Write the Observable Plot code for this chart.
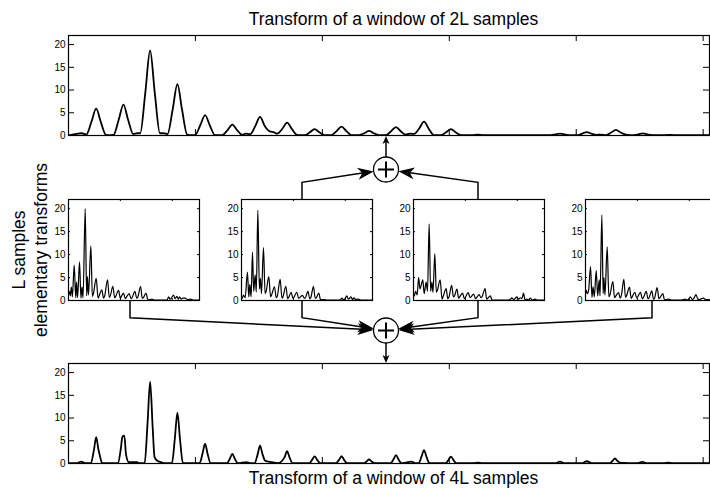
<!DOCTYPE html>
<html><head><meta charset="utf-8">
<script src="https://cdn.jsdelivr.net/npm/d3@7"></script>
<script src="https://cdn.jsdelivr.net/npm/@observablehq/plot@0.6"></script>
<style>
html,body{margin:0;padding:0;background:#fff;}
#chart{position:relative;width:710px;height:488px;overflow:hidden;background:#fff;font-family:"Liberation Sans",Arial,sans-serif;}
</style></head><body><div id="chart"></div>
<script>
// ---------- DATA ----------
const xDomain = [0, 505];
const yDomain = [0, 22];
const yTicks = [0, 5, 10, 15, 20];
const xTicksWide = [100, 200, 300, 400, 500];
const xTicksSmall = [200, 400];
const titleTop = "Transform of a window of 2L samples";
const titleBottom = "Transform of a window of 4L samples";
const sideLabel = ["L samples", "elementary transforms"];

// transform of a window of 2L samples: [x, value]
const window2L = [[0,0.05],[5,0.3],[10,0.5],[13.5,0.25],
 [14,0.2],[18,2.95],[21.8,5.9],[25.5,2.95],[29.5,0.15],[32.5,0.1],
 [35.5,0.15],[39.5,3.4],[43.3,6.8],[47,3.4],[51,0.3],[54,0.5],
 [56.5,0.5],[60.5,9.4],[64.3,18.7],[68,9.3],[72,0.5],[75,0.5],
 [78,0.3],[82,5.6],[85.8,11.3],[89.5,5.6],[93.5,0.2],[97,0.05],
 [99.8,0.1],[103.8,2.25],[107.6,4.5],[111.3,2.25],[115.3,0.1],[118,0.05],
 [121.3,0.1],[125.3,1.2],[129.1,2.4],[132.8,1.2],[136.8,0.15],[139.5,0.4],
 [143.1,0.3],[147.1,2.05],[150.9,4.1],[154.6,2.1],[158.6,0.9],[162,0.7],
 [164.4,0.4],[168.4,1.45],[172.2,2.85],[175.9,1.45],[179.9,0.15],[183,0.05],
 [186.1,0.05],[190.1,0.7],[193.9,1.4],[197.6,0.7],[201.6,0.1],[204.5,0.05],
 [207.3,0.1],[211.3,1.0],[215.1,1.95],[218.8,1.0],[222.8,0.1],[226,0.05],
 [229,0.1],[233,0.5],[236.8,1.0],[240.5,0.5],[244.5,0.1],[247.5,0.05],
 [250.2,0.1],[254.2,0.95],[258,1.85],[261.7,0.95],[265.7,0.2],[269,0.4],
 [272.3,0.35],[276.3,1.55],[280.1,3.05],[283.8,1.5],[287.8,0.1],[290.5,0.05],
 [293.5,0.1],[297.5,0.7],[301.3,1.4],[305,0.7],[309,0.1],[313,0.05],
 [318,0.05],[322.6,0.2],[327,0.05],[340,0.05],[360,0.05],[375,0.1],
 [380,0.1],[383.5,0.25],[387.2,0.4],[391,0.25],[395,0.05],
 [401,0.05],[404.6,0.4],[408.4,0.75],[412.1,0.4],[416,0.15],[419,0.2],
 [423.5,0.1],[427.5,0.65],[431.3,1.25],[435,0.65],[439,0.2],[442,0.1],
 [445.5,0.1],[449,0.25],[452.5,0.45],[456,0.25],[460,0.1],
 [470,0.1],[474,0.15],[480,0.05],[495,0.1],[505,0.05]];

// transform of a window of 4L samples
const window4L = [[0,0.05],[7,0.1],[10,0.4],[13,0.1],
 [17.5,0.05],[20,2.9],[21.8,5.8],[23.5,3.2],[24.5,2.0],[26.5,0.1],[30,0.05],[36,0.05],
 [39,0.1],[41.2,3.2],[42.5,5.9],[44,6.15],[45.3,2.0],[47.5,0.3],[51,0.3],[54,0.3],[56,0.05],
 [60,0.1],[62.3,9],[64.3,18],[66.3,8],[67.8,1.4],[70,0.6],[73,0.3],[75,0.1],
 [81.5,0.05],[83.8,5.6],[85.8,11.2],[87.8,5.5],[90.2,0.05],
 [103.3,0.05],[105.6,2.2],[107.6,4.35],[109.6,2.1],[112,0.05],
 [124.8,0.05],[127.1,1.05],[129.1,2.1],[131.1,1.0],[133.5,0.05],[140,0.3],[143,0.1],
 [146.6,0.05],[148.9,1.9],[150.9,3.9],[152.9,2.0],[155,0.6],[160,0.3],[165,0.1],
 [170.2,1.35],[172.2,2.7],[174.2,1.3],[176.6,0.05],
 [189.6,0.05],[191.9,0.8],[193.9,1.55],[195.9,0.8],[198.3,0.05],
 [210.8,0.05],[213.1,0.8],[215.1,1.6],[217.1,0.8],[219.5,0.05],
 [232.5,0.05],[234.8,0.45],[236.8,0.9],[238.8,0.45],[241.2,0.05],
 [253.7,0.05],[256,0.9],[258,1.85],[260,0.9],[262.4,0.05],[266,0.2],[270,0.4],[273,0.1],
 [275.8,0.05],[278.1,1.5],[280.1,2.95],[282.1,1.4],[284.5,0.05],
 [297,0.05],[299.3,0.75],[301.3,1.5],[303.3,0.75],[305.7,0.05],
 [319,0.05],[322.6,0.2],[326,0.05],[360,0.05],[378,0.1],
 [383.5,0.05],[387.2,0.4],[391,0.05],
 [404.5,0.05],[408.4,0.5],[412,0.1],[418,0.1],
 [426.5,0.05],[428.5,0.55],[430.5,1.1],[432.5,0.55],[435,0.15],[440,0.1],
 [448,0.05],[452,0.35],[456,0.05],
 [469,0.05],[472.5,0.2],[476,0.05],[505,0.05]];

// elementary transforms (L samples)
const elemX1 = [0,4,7,11,15,22,28,31,35,42.5,48,52,56,64.4,70,73,77,86.2,92,96,106.8,114,118,128.6,135,139,150.5,157,161,171,178,182,193,200,203,212,219,223,234,241,245,256,263,267,278,284,288,299,305,310,321,330,360,380,386,391,396,405,411,418,423,428,434,440,450,460,470,480,505];
const elemY1 = [1.2,2.0,1.0,2.9,0.8,7.7,0.6,4.0,0.6,8.4,0.5,3.0,0.6,20,1.0,5.2,1.2,11.9,0.9,1.5,4.8,0.5,1.0,2.3,0.5,0.9,4.5,0.7,1.0,3.1,0.6,0.9,2.2,0.5,0.8,1.6,0.4,0.7,1.5,0.4,0.6,2.0,0.5,0.7,3.1,0.5,0.6,1.6,0.3,0.1,0.3,0.1,0.1,0.1,0.8,0.3,0.5,1.2,0.4,0.9,0.3,0.8,0.3,0.5,0.5,0.2,0.3,0.1,0.1];
const elemX2 = [0,3,8,14,23,28,32,37,42.3,47,52.6,57,63,69,73,77,84.7,91,95,105.3,112,116,127,134,138,149,156,160,171,178,182,191.4,198,202,213,220,224,235,242,246,256,263,267,277.5,284,288,298,305,310,320,328,360,380,387,392,398,406,412,417,422,428,434,440,450,460,475,505];
const elemY2 = [1.0,0.5,1.2,0.6,6.2,0.8,3.5,0.8,10.5,2.0,5.6,1.8,19.7,2.5,4.8,1.5,11.5,1.5,2.0,5.2,0.8,1.2,3.0,0.6,0.9,4.6,0.5,0.8,3.1,0.4,0.7,1.8,0.5,0.7,1.8,0.5,0.6,1.1,0.5,0.6,2.0,0.4,0.6,3.1,0.5,0.6,1.6,0.1,0.2,0.2,0.1,0.1,0.1,0.5,0.2,0.3,1.0,0.3,0.5,0.8,0.2,0.6,0.2,0.3,0.1,0.1,0.1];
const elemX3 = [0,3,8,14,19.7,25,29,36,41,48.8,54,60.4,66,71,75,82.2,88,92,102.8,110,114,126,132,137,147,154,158,167.5,174,178,189,196,200,211,218,222,232,239,243,253,260,264,276,282,286,296,303,310,340,365,373,379,386,392,398.5,405,412,418,424,430,437,444,450,458,464,469,476,505];
const elemY3 = [1.5,1.0,2.0,1.2,5.0,2.5,3.2,4.5,1.5,4.0,2.0,16.7,2.0,4.0,1.8,10.2,1.8,2.2,4.5,0.3,0.8,2.6,0.4,0.8,3.3,0.8,1.0,2.5,0.5,0.8,1.6,0.4,0.7,1.7,0.6,0.8,1.4,0.4,0.6,1.3,0.6,0.8,2.6,0.3,0.5,1.0,0.1,0.1,0.1,0.1,0.2,0.6,0.2,0.5,0.8,0.3,0.6,0.4,1.6,0.1,0.3,0.1,0.5,0.1,0.2,0.3,0.1,0.1];
const elemX4 = [0,3,7,12,19.4,25,29,34,41.3,47,52.8,56,63.1,68,71,75,83.6,90,94,105.5,112,116,127.3,134,138,147.9,154,158,169.7,176,180,190,197,201,212,219,223,234,241,245,255.8,262,266,276.3,283,287,298,305,310,320,330,370,384,392,398,404,412,418,426,433,440,447,455,463,474,485,505];
const elemY4 = [1.5,2.2,1.5,2.2,7.4,0.7,3.0,0.8,6.5,1.0,4.5,1.0,18.6,1.5,5.0,1.2,11.7,0.8,1.2,4.1,0.6,0.9,1.7,0.5,1.0,4.6,0.7,1.0,2.9,0.5,0.8,1.8,0.6,0.8,1.8,0.4,0.6,2.0,0.4,0.6,2.1,0.3,0.5,2.8,0.4,0.6,1.5,0.1,0.2,0.3,0.1,0.1,0.3,0.1,0.3,0.8,0.2,0.5,1.3,0.3,0.2,0.4,0.5,0.2,0.2,0.1,0.1];

// ---------- LAYOUT ----------
const FONT = "'Liberation Sans', Arial, Helvetica, sans-serif";
const root = document.getElementById("chart");
const wide = {x: 68, w: 641, h: 100};
const topY = 35, bottomY = 363;
const mid = {y: 199, w: 131, h: 101};
const midPanels = [
  {x: 68, conn: 130, xs: elemX1, ys: elemY1},
  {x: 240.5, conn: 302, xs: elemX2, ys: elemY2},
  {x: 413, conn: 478, xs: elemX3, ys: elemY3},
  {x: 585, conn: 652, xs: elemX4, ys: elemY4}
];

function panel(data, o) {
  const mL = 30, mR = 2, mT = 4, mB = 4;
  const kx = o.w / (xDomain[1] - xDomain[0]);
  const ky = o.h / (yDomain[1] - yDomain[0]);
  const tx = o.tick / kx, ty = o.tick / ky;
  const p = Plot.plot({
    width: mL + o.w + mR, height: mT + o.h + mB,
    marginLeft: mL, marginRight: mR, marginTop: mT, marginBottom: mB,
    x: {domain: xDomain, axis: null},
    y: {domain: yDomain, axis: null},
    style: {background: "transparent", overflow: "visible", fontFamily: FONT, fontSize: "10px", color: "black"},
    marks: [
      Plot.ruleY(yTicks, {y: d => d, x1: xDomain[0], x2: xDomain[0] + tx, stroke: "black", strokeWidth: 1}),
      Plot.ruleY(yTicks, {y: d => d, x1: xDomain[1] - tx, x2: xDomain[1], stroke: "black", strokeWidth: 1}),
      Plot.ruleX(o.xTicks, {x: d => d, y1: yDomain[1] - ty, y2: yDomain[1], stroke: "black", strokeWidth: 1}),
      Plot.ruleX(o.xTicks, {x: d => d, y1: yDomain[0], y2: yDomain[0] + ty, stroke: "black", strokeWidth: 1}),
      Plot.line(data, {x: d => d[0], y: d => d[1], curve: o.curve, stroke: "black", strokeWidth: o.sw, clip: true}),
      Plot.axisY(yTicks, {tickSize: 0, tickPadding: 3, label: null, fontSize: 10}),
      Plot.frame({stroke: "black", strokeWidth: 1.2})
    ]
  });
  p.style.position = "absolute";
  p.style.left = (o.x - mL) + "px";
  p.style.top = (o.y - mT) + "px";
  root.append(p);
}

panel(window2L, {x: wide.x, y: topY, w: wide.w, h: wide.h, tick: 6, xTicks: xTicksWide, curve: "monotone-x", sw: 1.8});
panel(window4L, {x: wide.x, y: bottomY, w: wide.w, h: wide.h, tick: 6, xTicks: xTicksWide, curve: "monotone-x", sw: 1.8});
midPanels.forEach(m => {
  const data = m.xs.map((x, i) => [x, m.ys[i]]);
  panel(data, {x: m.x, y: mid.y, w: mid.w, h: mid.h, tick: 2, xTicks: xTicksSmall, curve: "monotone-x", sw: 1.2});
});

// ---------- DIAGRAM OVERLAY ----------
const svg = d3.create("svg").attr("width", 710).attr("height", 488)
  .style("position", "absolute").style("left", "0px").style("top", "0px")
  .style("font-family", FONT);
const R = 12.5;
const sumTop = {x: 386, y: 169.5}, sumBot = {x: 386, y: 330.5};
const elbowTop = 182.3, elbowBot = 317.7;

function arrow(from, tip, L, w, n) {
  const dx = tip.x - from.x, dy = tip.y - from.y, len = Math.hypot(dx, dy);
  const ux = dx / len, uy = dy / len, vx = -uy, vy = ux;
  const bx = tip.x - ux * L, by = tip.y - uy * L;
  const nx = tip.x - ux * (L - n), ny = tip.y - uy * (L - n);
  svg.append("path")
    .attr("d", `M${tip.x},${tip.y}L${bx + vx * w},${by + vy * w}L${nx},${ny}L${bx - vx * w},${by - vy * w}Z`)
    .attr("fill", "black");
  return {x: nx, y: ny};
}
function connector(pts, sum, L, w, n) {
  const last = pts[pts.length - 1];
  const dx = sum.x - last.x, dy = sum.y - last.y, len = Math.hypot(dx, dy);
  const tip = {x: sum.x - dx / len * R, y: sum.y - dy / len * R};
  const end = arrow(last, tip, L, w, n);
  svg.append("path")
    .attr("d", d3.line().x(d => d.x).y(d => d.y)([...pts, end]))
    .attr("fill", "none").attr("stroke", "black").attr("stroke-width", 1.5);
}
[midPanels[1], midPanels[2]].forEach(m => {
  connector([{x: m.conn, y: mid.y}, {x: m.conn, y: elbowTop}], sumTop, 16, 6, 4.5);
});
midPanels.forEach(m => {
  connector([{x: m.conn, y: mid.y + mid.h}, {x: m.conn, y: elbowBot}], sumBot, 16, 6, 4.5);
});
{
  const e1 = arrow({x: sumTop.x, y: sumTop.y - R}, {x: sumTop.x, y: topY + wide.h + 1}, 8, 3.5, 2);
  svg.append("line").attr("x1", sumTop.x).attr("y1", sumTop.y - R).attr("x2", e1.x).attr("y2", e1.y)
    .attr("stroke", "black").attr("stroke-width", 1.5);
  const e2 = arrow({x: sumBot.x, y: sumBot.y + R}, {x: sumBot.x, y: bottomY}, 8, 3.5, 2);
  svg.append("line").attr("x1", sumBot.x).attr("y1", sumBot.y + R).attr("x2", e2.x).attr("y2", e2.y)
    .attr("stroke", "black").attr("stroke-width", 1.5);
}
[sumTop, sumBot].forEach(s => {
  svg.append("circle").attr("cx", s.x).attr("cy", s.y).attr("r", R)
    .attr("fill", "white").attr("stroke", "black").attr("stroke-width", 1.3);
  svg.append("path").attr("d", `M${s.x - 8},${s.y}H${s.x + 8}M${s.x},${s.y - 8}V${s.y + 8}`)
    .attr("stroke", "black").attr("stroke-width", 2);
});
svg.append("text").attr("x", 393.5).attr("y", 25).attr("text-anchor", "middle")
  .attr("font-size", 17.5).attr("fill", "black").text(titleTop);
svg.append("text").attr("x", 393.5).attr("y", 484).attr("text-anchor", "middle")
  .attr("font-size", 17.5).attr("fill", "black").text(titleBottom);
svg.append("text").attr("transform", "translate(24.5,250) rotate(-90)").attr("text-anchor", "middle")
  .attr("font-size", 17.5).attr("fill", "black").text(sideLabel[0]);
svg.append("text").attr("transform", "translate(47,250) rotate(-90)").attr("text-anchor", "middle")
  .attr("font-size", 17.5).attr("fill", "black").text(sideLabel[1]);
root.append(svg.node());
</script>
</body></html>
